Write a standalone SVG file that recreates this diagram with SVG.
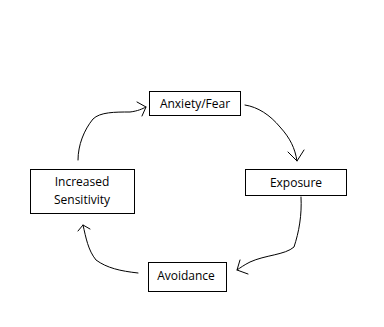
<svg xmlns="http://www.w3.org/2000/svg" width="384" height="327" viewBox="0 0 384 327">
<style>
.box{fill:#fff;stroke:#000;stroke-width:1}
.t{font-family:"Open Sans","Noto Sans",sans-serif;font-size:12px;fill:#000;text-anchor:middle}
.c{fill:none;stroke:#000;stroke-width:1;stroke-linecap:round;stroke-linejoin:round}
</style>
<rect width="384" height="327" fill="#fff"/>
<g id="connectors">
<path class="c" d="M78,160 C78,145 84,130 93,119 C100,112 115,112 130,112 C138,111 142,109 146,107"/>
<path class="c" d="M137,102 L146,107 L142,116"/>
<path class="c" d="M245,105 C258,107 270,115 280,127 C290,138 295,148 297,161"/>
<path class="c" d="M288,152 L297,161 L304,150"/>
<path class="c" d="M301,197 C302,215 299,232 294,247 C285,255 265,255 250,262 C244,265 240,268 237,270"/>
<path class="c" d="M240,260 L237,270 L248,274"/>
<path class="c" d="M138,273 C120,271 107,268 96,260 C88,250 86,238 83,225"/>
<path class="c" d="M78,231 L83,225 L90,229"/>
</g>
<g id="anxiety">
<rect class="box" x="149.5" y="91.5" width="91" height="24"/>
<text class="t" x="195" y="108">Anxiety/Fear</text>
</g>
<g id="exposure">
<rect class="box" x="245.5" y="169.5" width="101" height="26"/>
<text class="t" x="296" y="187">Exposure</text>
</g>
<g id="sensitivity">
<rect class="box" x="30.5" y="169.5" width="104" height="44"/>
<text class="t" x="82" y="186">Increased</text>
<text class="t" x="82" y="204">Sensitivity</text>
</g>
<g id="avoidance">
<rect class="box" x="148.5" y="262.5" width="78" height="29"/>
<text class="t" x="186" y="280">Avoidance</text>
</g>
</svg>
